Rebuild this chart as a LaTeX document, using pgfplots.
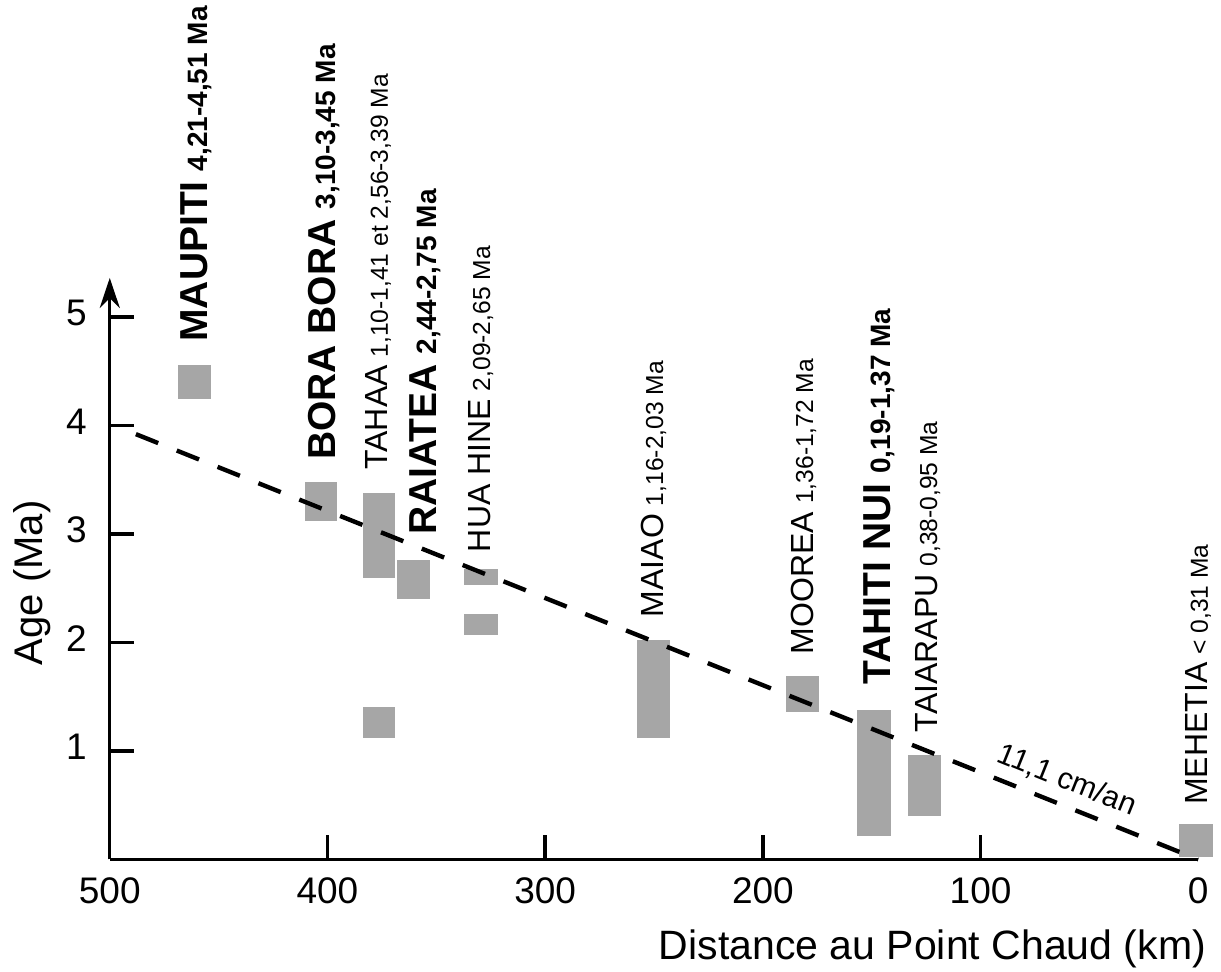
\documentclass[border=0pt]{standalone}
\usepackage{fontspec}
\setmainfont{Liberation Sans}
\usepackage{pgfplots}
\pgfplotsset{compat=1.18}
\usetikzlibrary{arrows.meta}
\definecolor{barg}{HTML}{A6A6A6}
\tikzset{lab/.style={rotate=90, anchor=base west, inner sep=0pt}}
\newcommand{\bnm}[1]{{\fontsize{19.5}{20}\selectfont\bfseries #1}}
\newcommand{\bag}[1]{{\fontsize{14}{15}\selectfont\bfseries #1}}
\newcommand{\nnm}[1]{{\fontsize{16}{17}\selectfont #1}}
\newcommand{\nag}[1]{{\fontsize{12.3}{13}\selectfont #1}}
\begin{document}
\begin{tikzpicture}
\useasboundingbox (-599.15pt,-56.25pt) rectangle (11.35pt,429.75pt);
\begin{axis}[
  at={(0,0)}, anchor=origin,
  x=1.0885pt, y=54.25pt,
  x dir=reverse,
  xmin=0, xmax=500, ymin=0, ymax=5.36,
  axis x line=bottom, axis y line=left,
  axis line style={line width=1.7pt},
  x axis line style={-},
  y axis line style={-{Stealth[length=15pt,width=10pt]}},
  every tick/.style={black, line width=1.7pt},
  major tick length=12pt,
  tick align=inside,
  xtick={100,200,300,400,500},
  extra x ticks={0},
  extra x tick style={major tick length=0pt},
  ytick={1,2,3,4,5},
  tick label style={font=\fontsize{18.5}{21}\selectfont},
  xticklabel style={yshift=-5.5pt},
  yticklabel style={xshift=-8pt, yshift=2pt},
  /pgf/number format/assume math mode=true,
  clip=false,
]
% bars: (x right, x left, y bottom, y top)
\addplot[fill=barg, draw=none] coordinates {(468.7,4.24) (453.5,4.24) (453.5,4.56) (468.7,4.56)};
\addplot[fill=barg, draw=none] coordinates {(410.3,3.12) (395.6,3.12) (395.6,3.48) (410.3,3.48)};
\addplot[fill=barg, draw=none] coordinates {(383.5,2.59) (368.9,2.59) (368.9,3.38) (383.5,3.38)};
\addplot[fill=barg, draw=none] coordinates {(383.5,1.12) (368.9,1.12) (368.9,1.41) (383.5,1.41)};
\addplot[fill=barg, draw=none] coordinates {(367.9,2.40) (352.8,2.40) (352.8,2.76) (367.9,2.76)};
\addplot[fill=barg, draw=none] coordinates {(337.3,2.53) (321.7,2.53) (321.7,2.68) (337.3,2.68)};
\addplot[fill=barg, draw=none] coordinates {(337.3,2.07) (321.7,2.07) (321.7,2.26) (337.3,2.26)};
\addplot[fill=barg, draw=none] coordinates {(258.0,1.12) (242.8,1.12) (242.8,2.02) (258.0,2.02)};
\addplot[fill=barg, draw=none] coordinates {(189.6,1.36) (174.3,1.36) (174.3,1.69) (189.6,1.69)};
\addplot[fill=barg, draw=none] coordinates {(156.7,0.22) (141.1,0.22) (141.1,1.38) (156.7,1.38)};
\addplot[fill=barg, draw=none] coordinates {(133.3,0.40) (118.0,0.40) (118.0,0.96) (133.3,0.96)};
\addplot[fill=barg, draw=none] coordinates {(8.7,0.02) (-6.6,0.02) (-6.6,0.33) (8.7,0.33)};
% trend line
\addplot[black, line width=2.2pt, dash pattern=on 12pt off 10pt] coordinates {(488,3.92) (0,0)};
\node[rotate=-21.8, font=\fontsize{15}{17}\selectfont, inner sep=0pt] at (axis cs:60.3,0.73) {11,1 cm/an};
% labels
\node[lab] at (axis cs:455.0,4.77) {\bnm{MAUPITI}\hspace{5pt}\bag{4,21-4,51 Ma}};
\node[lab] at (axis cs:396.5,3.68) {\bnm{BORA BORA}\hspace{5pt}\bag{3,10-3,45 Ma}};
\node[lab] at (axis cs:372.2,3.59) {\nnm{TAHAA}\hspace{4pt}\nag{1,10-1,41 et 2,56-3,39 Ma}};
\node[lab] at (axis cs:349.8,2.99) {\bnm{RAIATEA}\hspace{5pt}\bag{2,44-2,75 Ma}};
\node[lab] at (axis cs:325.3,2.83) {\nnm{HUA HINE}\hspace{4pt}\nag{2,09-2,65 Ma}};
\node[lab] at (axis cs:245.8,2.23) {\nnm{MAIAO}\hspace{4pt}\nag{1,16-2,03 Ma}};
\node[lab] at (axis cs:176.9,1.89) {\nnm{MOOREA}\hspace{4pt}\nag{1,36-1,72 Ma}};
\node[lab] at (axis cs:141.6,1.61) {\bnm{TAHITI NUI}\hspace{5pt}\bag{0,19-1,37 Ma}};
\node[lab] at (axis cs:120.0,1.17) {\nnm{TAIARAPU}\hspace{4pt}\nag{0,38-0,95 Ma}};
\node[lab] at (axis cs:-4.4,0.50) {\nnm{MEHETIA}\hspace{4pt}\nag{< 0,31 Ma}};
% axis titles
\node[rotate=90, anchor=base, font=\fontsize{20}{24}\selectfont] at (axis cs:530.7,2.55) {Age (Ma)};
\node[anchor=base east, font=\fontsize{20.5}{24}\selectfont] at (axis cs:-6.75,-0.926) {Distance au Point Chaud (km)};
\end{axis}
\end{tikzpicture}
\end{document}
